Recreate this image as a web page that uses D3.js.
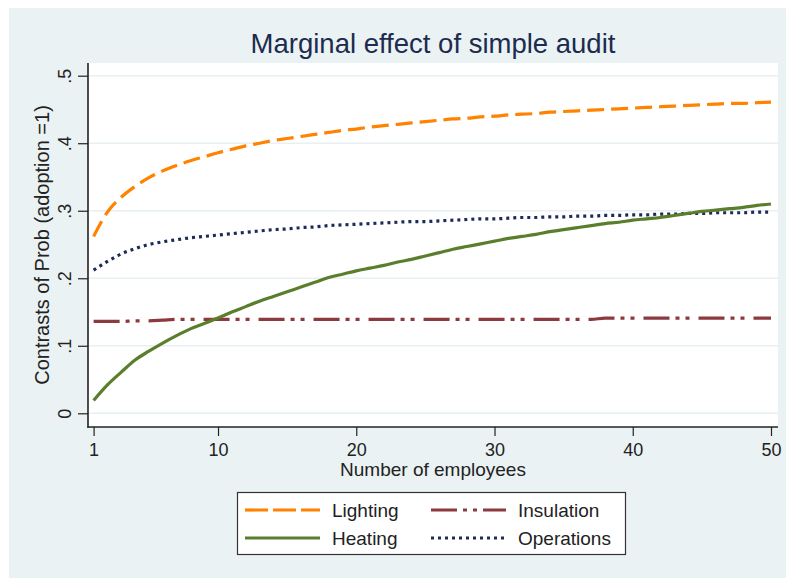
<!DOCTYPE html>
<html>
<head>
<meta charset="utf-8">
<script src="https://cdn.jsdelivr.net/npm/d3@7"></script>
<style>
  html, body { margin: 0; padding: 0; background: #ffffff; }
  svg { display: block; font-family: "Liberation Sans", Arial, sans-serif; }
</style>
</head>
<body>
<svg id="chart" width="786" height="578"></svg>
<script>
// ---------------- data ----------------
const employees = [1,2,3,4,5,6,7,8,9,10,11,12,13,14,15,16,17,18,19,20,21,22,23,24,25,
  26,27,28,29,30,31,32,33,34,35,36,37,38,39,40,41,42,43,44,45,46,47,48,49,50];

const lighting = [0.262,0.298,0.320,0.336,0.349,0.359,0.367,0.374,0.380,0.386,
  0.391,0.396,0.400,0.404,0.407,0.410,0.413,0.416,0.419,0.421,
  0.424,0.426,0.428,0.430,0.432,0.434,0.436,0.437,0.439,0.440,
  0.442,0.443,0.444,0.446,0.447,0.448,0.449,0.450,0.451,0.452,
  0.453,0.454,0.455,0.456,0.457,0.458,0.459,0.459,0.460,0.461];

const heating = [0.019,0.042,0.061,0.079,0.092,0.104,0.115,0.125,0.133,0.141,
  0.150,0.158,0.166,0.173,0.180,0.187,0.194,0.201,0.206,0.211,
  0.215,0.219,0.224,0.228,0.233,0.238,0.243,0.247,0.251,0.255,
  0.259,0.262,0.265,0.269,0.272,0.275,0.278,0.281,0.283,0.286,
  0.288,0.290,0.293,0.296,0.299,0.301,0.303,0.305,0.308,0.310];

const insulation = [0.136,0.136,0.136,0.137,0.137,0.138,0.139,0.139,0.139,0.139,
  0.139,0.139,0.139,0.139,0.139,0.139,0.139,0.139,0.139,0.139,
  0.139,0.139,0.139,0.139,0.139,0.139,0.139,0.139,0.139,0.139,
  0.139,0.139,0.139,0.139,0.139,0.139,0.139,0.141,0.141,0.141,
  0.141,0.141,0.141,0.141,0.141,0.141,0.141,0.141,0.141,0.141];

const operations = [0.212,0.225,0.236,0.244,0.250,0.254,0.257,0.260,0.262,0.264,
  0.266,0.268,0.270,0.272,0.273,0.275,0.276,0.278,0.279,0.280,
  0.281,0.282,0.283,0.284,0.284,0.285,0.286,0.287,0.288,0.288,
  0.289,0.290,0.290,0.291,0.291,0.292,0.292,0.293,0.293,0.294,
  0.294,0.295,0.295,0.296,0.296,0.297,0.297,0.297,0.298,0.298];

const xTicks = [1,10,20,30,40,50];
const yTicks = [0,0.1,0.2,0.3,0.4,0.5];
const yTickLabels = ["0",".1",".2",".3",".4",".5"];

const titleText = "Marginal effect of simple audit";
const xTitle = "Number of employees";
const yTitle = "Contrasts of Prob (adoption =1)";

const seriesNames = ["Lighting","Heating","Insulation","Operations"];

// ---------------- styles ----------------
const styles = {
  Lighting:   { values: lighting,   color: "#ff8200", dash: "17,7",  width: 3.2 },
  Heating:    { values: heating,    color: "#5b7e2c", dash: null,    width: 3.2 },
  Insulation: { values: insulation, color: "#8c3a3f", dash: "26,6,4,6,4,9", width: 3.2 },
  Operations: { values: operations, color: "#1c2b5a", dash: "3,4",   width: 3.2 }
};
const legendDash = {
  Lighting: "23,5",
  Heating: null,
  Insulation: "26,6,4,6,4,6",
  Operations: "3,4"
};

// ---------------- layout ----------------
const svg = d3.select("#chart");
const plot = { left: 88, right: 778, top: 63, bottom: 427 };

svg.append("rect").attr("x", 0).attr("y", 0).attr("width", 786).attr("height", 578).attr("fill", "#ffffff");
svg.append("rect").attr("x", 9).attr("y", 8).attr("width", 777).attr("height", 570).attr("fill", "#eaf2f3");
svg.append("rect").attr("x", plot.left).attr("y", plot.top)
  .attr("width", plot.right - plot.left).attr("height", plot.bottom - plot.top).attr("fill", "#ffffff");

const x = d3.scaleLinear().domain([1, 50]).range([93.6, 771]);
const y = d3.scaleLinear().domain([0, 0.5]).range([413.3, 75.7]);

// grid
svg.append("g").selectAll("line").data(yTicks).join("line")
  .attr("x1", plot.left).attr("x2", plot.right)
  .attr("y1", d => y(d)).attr("y2", d => y(d))
  .attr("stroke", "#e7f0f2").attr("stroke-width", 1.4);

// lines
const line = vals => d3.line()
  .x((d, i) => x(employees[i]))
  .y(d => y(d))
  .curve(d3.curveMonotoneX)(vals);

const drawOrder = ["Insulation","Operations","Heating","Lighting"];
drawOrder.forEach(name => {
  const s = styles[name];
  svg.append("path")
    .attr("d", line(s.values))
    .attr("fill", "none")
    .attr("stroke", s.color)
    .attr("stroke-width", s.width)
    .attr("stroke-dasharray", s.dash)
    .attr("stroke-linecap", "butt");
});

// axes
const yAxis = d3.axisLeft(y).tickValues(yTicks).tickSize(10).tickFormat((d, i) => yTickLabels[i]);
const gy = svg.append("g").attr("transform", `translate(${plot.left},0)`).call(yAxis);
gy.select(".domain").remove();
gy.selectAll(".tick line").attr("stroke", "#222").attr("stroke-width", 1.2);
gy.selectAll(".tick text")
  .attr("transform", "rotate(-90)")
  .attr("x", 0).attr("y", -17).attr("dy", 0)
  .attr("text-anchor", "middle")
  .attr("font-size", 18).attr("fill", "#222")
  .style("font-family", "'Liberation Sans', Arial, sans-serif");

const xAxis = d3.axisBottom(x).tickValues(xTicks).tickSize(9).tickFormat(d3.format("d"));
const gx = svg.append("g").attr("transform", `translate(0,${plot.bottom})`).call(xAxis);
gx.select(".domain").remove();
gx.selectAll(".tick line").attr("stroke", "#222").attr("stroke-width", 1.2);
gx.selectAll(".tick text")
  .attr("y", 29).attr("dy", 0)
  .attr("font-size", 18).attr("fill", "#222")
  .style("font-family", "'Liberation Sans', Arial, sans-serif");

// axis lines
svg.append("line").attr("x1", plot.left).attr("x2", plot.left).attr("y1", plot.top).attr("y2", plot.bottom + 0.7)
  .attr("stroke", "#222").attr("stroke-width", 1.6);
svg.append("line").attr("x1", plot.left - 0.7).attr("x2", plot.right).attr("y1", plot.bottom).attr("y2", plot.bottom)
  .attr("stroke", "#222").attr("stroke-width", 1.6);

// titles
svg.append("text").attr("x", (plot.left + plot.right) / 2).attr("y", 53)
  .attr("text-anchor", "middle").attr("font-size", 27.5).attr("fill", "#1c2b4f")
  .text(titleText);

svg.append("text").attr("x", (plot.left + plot.right) / 2).attr("y", 476)
  .attr("text-anchor", "middle").attr("font-size", 19).attr("fill", "#222")
  .text(xTitle);

svg.append("text")
  .attr("transform", `translate(49,${(plot.top + plot.bottom) / 2}) rotate(-90)`)
  .attr("text-anchor", "middle").attr("font-size", 20).attr("fill", "#222")
  .text(yTitle);

// legend
const lg = svg.append("g");
lg.append("rect").attr("x", 237.5).attr("y", 492.5).attr("width", 388).attr("height", 62)
  .attr("fill", "#ffffff").attr("stroke", "#333").attr("stroke-width", 1.2);

const legendPos = {
  Lighting:   { lx: 245, ty: 510 },
  Heating:    { lx: 245, ty: 538 },
  Insulation: { lx: 431, ty: 510 },
  Operations: { lx: 431, ty: 538 }
};
seriesNames.forEach(name => {
  const p = legendPos[name], s = styles[name];
  lg.append("line").attr("x1", p.lx).attr("x2", p.lx + 75).attr("y1", p.ty).attr("y2", p.ty)
    .attr("stroke", s.color).attr("stroke-width", 3.2)
    .attr("stroke-dasharray", legendDash[name]);
  lg.append("text").attr("x", p.lx + 87).attr("y", p.ty + 7)
    .attr("font-size", 19).attr("fill", "#222").text(name);
});
</script>
</body>
</html>
